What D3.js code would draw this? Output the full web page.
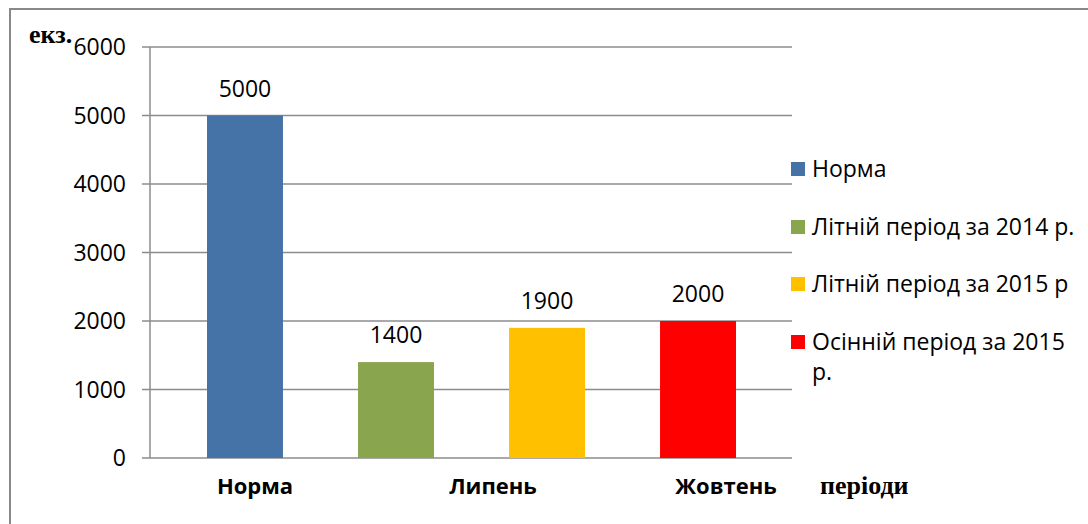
<!DOCTYPE html>
<html><head><meta charset="utf-8">
<script src="https://cdn.jsdelivr.net/npm/d3@7"></script>
<style>body{margin:0;background:#fff}svg{display:block}</style>
</head><body>
<svg id="c" width="1088" height="524"></svg>
<script>
const series = ["Норма","Літній період за 2014 р.","Літній період за 2015 р","Осінній період за 2015 р."];
const values = [5000,1400,1900,2000];
const colors = ["#4572A7","#89A54E","#FFC000","#FF0000"];
const yTicks = [0,1000,2000,3000,4000,5000,6000];
const catLabels = ["Норма","Липень","Жовтень"];
const catPos = [255,493,726];
const legendLines = [["Норма"],["Літній період за 2014 р."],["Літній період за 2015 р"],["Осінній період за 2015","р."]];

const svg = d3.select("#c");
const font = "'Open Sans', 'Liberation Sans', sans-serif";
const serif = "'Liberation Serif','DejaVu Serif',serif";
svg.append("rect").attr("x",10).attr("y",9).attr("width",1100).attr("height",540)
  .attr("fill","none").attr("stroke","#888").attr("stroke-width",2);

const y = d3.scaleLinear().domain([0,6000]).range([458,47]);
const x = d3.scaleBand().domain(series).range([169.25,773.75]).paddingInner(0.497).paddingOuter(0.25);
const left = 150, right = 792;

// gridlines
svg.append("g").selectAll("line").data(yTicks).join("line")
  .attr("x1",142).attr("x2",right).attr("y1",d=>y(d)).attr("y2",d=>y(d))
  .attr("stroke","#8c8c8c").attr("stroke-width",1.5);
svg.append("line").attr("x1",left).attr("x2",left).attr("y1",y(6000)).attr("y2",y(0))
  .attr("stroke","#8c8c8c").attr("stroke-width",1.5);
svg.append("g").selectAll("text").data(yTicks).join("text")
  .attr("x",126).attr("y",d=>y(d)).attr("dy","0.36em").attr("text-anchor","end")
  .attr("font-family",font).attr("font-size",23).attr("fill","#000").text(d=>d);

// bars
svg.append("g").selectAll("rect").data(values).join("rect")
  .attr("x",(d,i)=>x(series[i])).attr("width",x.bandwidth())
  .attr("y",d=>y(d)).attr("height",d=>y(0)-y(d)).attr("fill",(d,i)=>colors[i]);
svg.append("g").selectAll("text").data(values).join("text")
  .attr("x",(d,i)=>x(series[i])+x.bandwidth()/2).attr("y",d=>y(d)-27).attr("dy","0.36em")
  .attr("text-anchor","middle").attr("font-family",font).attr("font-size",23).text(d=>d);

// category labels
svg.append("g").selectAll("text").data(catLabels).join("text")
  .attr("x",(d,i)=>catPos[i]).attr("y",494).attr("text-anchor","middle")
  .attr("font-family",font).attr("font-weight","bold").attr("font-size",22).text(d=>d);

svg.append("text").attr("x",820).attr("y",494).attr("font-family",serif)
  .attr("font-weight","bold").attr("font-size",26).text("періоди");
svg.append("text").attr("x",29).attr("y",43).attr("font-family",serif)
  .attr("font-weight","bold").attr("font-size",26).text("екз.");

// legend
const ly = [169,227,284,342];
const lg = svg.append("g");
legendLines.forEach((lines,i)=>{
  lg.append("rect").attr("x",791).attr("y",ly[i]-7).attr("width",14).attr("height",14).attr("fill",colors[i]);
  lines.forEach((t,j)=>{
    lg.append("text").attr("x",812).attr("y",ly[i]+j*30).attr("dy","0.36em")
      .attr("font-family",font).attr("font-size",23).text(t);
  });
});
</script>
</body></html>
